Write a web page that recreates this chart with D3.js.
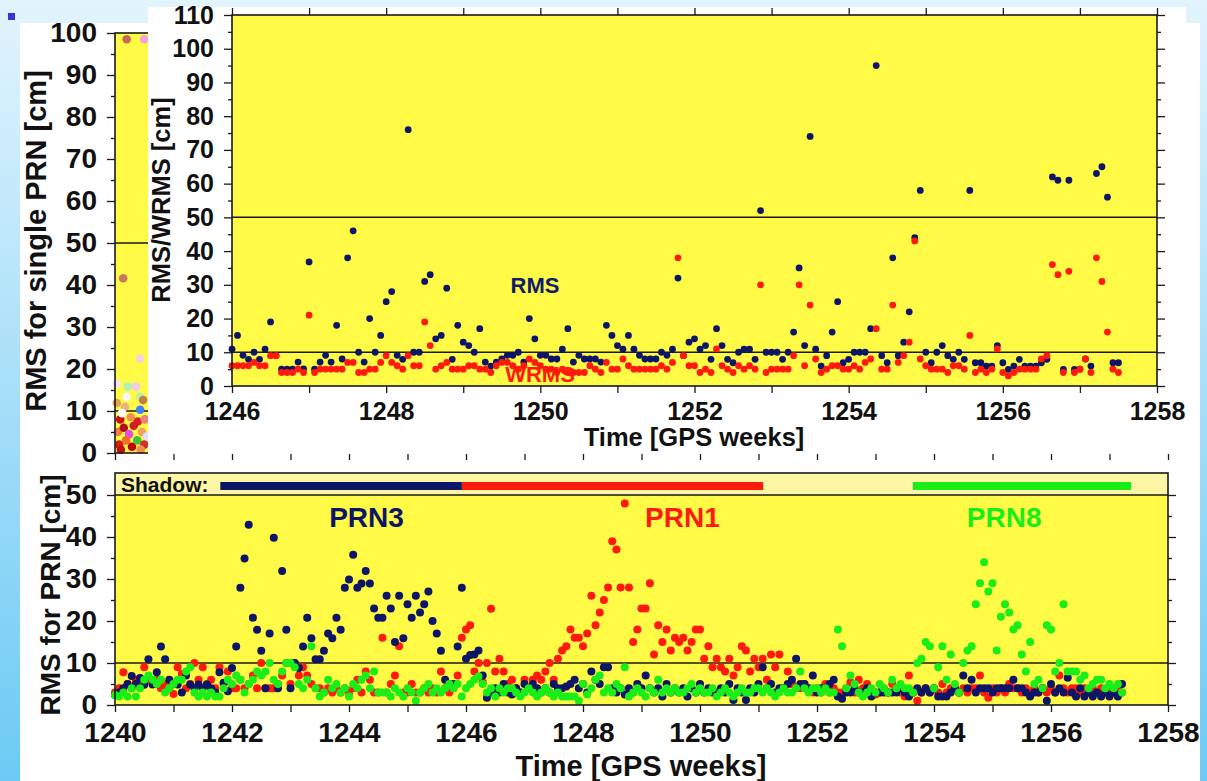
<!DOCTYPE html>
<html lang="en">

<head>
    <meta charset="UTF-8">
    <title>RMS / WRMS per PRN</title>
    <script src="https://cdn.jsdelivr.net/npm/d3@7"></script>
    <style>
        body {
            margin: 0;
            overflow: hidden;
        }

        text {
            font-family: "Liberation Sans", Arial, sans-serif;
            font-weight: bold;
        }
    </style>
</head>

<body>
    <svg id="fig" width="1207" height="781"></svg>

    <script>
        // ---- top panel: daily combination RMS / WRMS, two values per day from week 1246
        const topStart = 1246
        const topStep = 1 / 14
        const rms = [
            10.9, 15, 9.1, 7.9, 10, 7.9, 10.9, 19, 9, 5,
            5, 5, 7.1, 5.1, 36.8, 5, 7.1, 9.1, 7.1, 18,
            8, 38, 46, 10, 7.1, 20, 10, 15, 25, 28,
            9.1, 7.9, 76, 10, 10, 31, 33, 14, 15, 29,
            7.9, 18, 13, 12, 10, 17, 7.1, 5.9, 7.1, 8,
            9.1, 9.1, 10, 7.1, 20, 14, 9.1, 9.1, 8, 8,
            10.9, 17, 7.1, 9.1, 8, 8, 8, 7.1, 18, 15,
            12, 10.9, 15, 10.9, 9.1, 8, 8, 8, 10, 9.1,
            10.9, 32, 9, 13, 14, 10.9, 12, 7.9, 17, 12,
            7.9, 6.9, 10, 10.9, 10.9, 7.9, 52, 10, 10, 10,
            7.9, 10, 16, 35, 12, 74, 10.9, 5.9, 9, 16,
            25, 6.9, 7.9, 10, 10, 10, 17, 95, 9, 6.9,
            38, 9, 13, 22, 44, 58, 10, 6.9, 10, 12,
            9, 7.9, 10, 7.9, 58, 6.9, 6.9, 5.9, 5.9, 12,
            6.9, 4.9, 5.9, 7.9, 5.9, 5.9, 5.9, 6.9, 7.9, 62,
            61, 4.9, 61, 4.9, 5, 8, 5.9, 63, 65, 56,
            6.9, 6.9
        ]
        const wrms = [
            6, 6, 6, 6, 7, 6, 6, 9, 9, 4,
            4, 4, 5, 4, 21, 4, 5, 5, 5, 5,
            5, 7, 7, 4, 4, 5, 5, 7, 9, 7,
            6, 5, 9, 6, 6, 19, 12, 5, 6, 7,
            5, 5, 5, 6, 6, 5, 5, 4, 6, 7,
            7, 6, 5, 6, 8, 7, 6, 5, 5, 4,
            5, 4, 4, 4, 4, 6, 5, 4, 7, 5,
            5, 8, 6, 5, 5, 5, 5, 5, 6, 5,
            7, 38, 9, 6, 6, 4, 5, 4, 11, 6,
            5, 4, 6, 5, 6, 5, 30, 4, 5, 5,
            5, 5, 9, 30, 6, 24, 8, 4, 5, 6,
            6, 5, 5, 6, 5, 7, 8, 17, 5, 5,
            24, 7, 9, 13, 43, 8, 6, 5, 5, 5,
            4, 6, 6, 5, 15, 4, 5, 4, 5, 11,
            4, 3, 4, 5, 5, 5, 5, 8, 9, 36,
            33, 4, 34, 4, 5, 8, 4, 38, 31, 16,
            5, 4
        ]

        // ---- bottom panel: RMS per satellite, two values per day from week 1240
        const prnStart = 1240
        const prnStep = 1 / 14
        const prn3 = [
            2.4, 3, 4, 5, 6.9, 5, 6.4, 4.8, 10.9, 4.9,
            7.8, 13.9, 10.9, 6, 5, 4.9, 3, 7, 4.9, 4,
            4.9, 4, 4.9, 4, 3, 7.8, 5.3, 3.3, 8.8, 13.9,
            27.9, 34.9, 42.9, 20.8, 17.9, 12.9, 4, 17, 39.8, 4,
            31.9, 17.9, 4, 10, 8.8, 13.9, 20.8, 15.9, 10.9, 10.9,
            12.9, 17, 15.9, 20.8, 17.9, 27.9, 29.9, 35.8, 27.9, 28.9,
            31.9, 28.9, 23, 20.8, 20.8, 26, 23, 15, 26, 15.9,
            24, 20.8, 26, 22, 24, 27, 20, 17, 12.9, 6,
            5, 5, 13.9, 27.9, 11, 11.9, 12, 13, 7, 1.7,
            3, 4, 3, 5, 3, 2.5, 4, 3, 5, 4,
            5, 4, 3, 4, 3, 5, 4, 4, 4.4, 5,
            6, 4, 5, 3, 8, 6, 5, 9, 9, 4,
            3, 4, 2.5, 4, 3, 5, 4, 7, 4, 3,
            4, 2, 5, 3, 4, 3, 4, 2, 4, 3,
            5, 3, 4, 3, 3, 4, 3, 5, 1.2, 4,
            3, 1.2, 4, 3, 5, 9, 4, 5, 3, 4,
            4, 5, 6, 11, 5, 5, 4, 7, 3, 4,
            4, 5, 6, 2, 1.5, 3, 3, 4, 3, 3,
            4, 2, 3, 3, 3, 3, 3, 3, 4, 3,
            2, 3, 4, 3, 4, 3, 4, 2, 2, 2,
            3, 4, 3, 7, 4, 6, 3, 4, 4, 4,
            3, 4, 4, 4, 4, 6, 4, 4, 3, 2,
            3, 3, 4, 1, 5, 3, 4, 3, 6.5, 3,
            2, 4, 2, 3, 2, 3, 2, 3, 2, 3,
            2, 5
        ]
        const prn1 = [
            3, 4, 7.8, 5, 4, 6, 5, 9, 6, 5,
            6, 4, 5, 4, 2.6, 9, 7.4, 4, 5, 10,
            6, 9, 5, 6, 4, 9, 5, 8, 4, 4,
            6, 4, 5, 7, 4, 10, 4, 4, 4, 5,
            7, 10, 5, 10, 7, 9, 7, 5, 4, 4,
            3, 4, 3, 4, 3, 4, 3, 4, 6, 3,
            8, 6, 3, 3, 16, 3, 5, 7, 14, 3,
            3, 5, 3, 3, 4, 3, 4, 3, 8, 4,
            3, 4, 7, 16, 18, 19, 8, 10, 5.4, 10,
            22.9, 8, 11, 8, 5, 6, 4, 3, 6, 4,
            6, 7, 6, 8, 10, 6, 11, 13, 14, 18,
            16, 16, 14, 17, 26, 19, 22, 25, 28, 39,
            37, 28, 48, 28, 15, 18, 23, 23, 29, 12,
            19, 15, 18, 13, 16, 15, 16, 13, 15, 18,
            18, 11, 14, 9, 11, 9, 8, 11, 7, 9,
            14, 13, 8, 11, 9, 11, 6, 12, 9, 12,
            4, 8, 5, 4, 4, 5, 4, 3, 4, 3,
            5, 3, 4, 3, 3, 4, 5.4, 3, 6, 4,
            5, 3, 2.5, 3, 4, 3, 5, 4, 3, 2,
            7, 3, 1, 3, 4, 3, 4, 3, 5, 3,
            4, 4, 3, 4, 3, 4, 4, 7, 3, 1.7,
            4, 3, 4, 3, 5, 4, 4, 3, 4, 3,
            4, 3, 4, 3, 4, 3, 7, 4, 3, 4,
            4, 3, 4, 3, 4, 3, 4, 3, 4, 3,
            4, 3
        ]
        const prn8 = [
            2.4, 2, 3, 2, 4, 2, 4, 6, 7, 6,
            5, 6, 3, 4, 5, 6, 6, 8, 9, 3,
            2, 3, 2, 3, 2, 2, 4, 6, 5, 7,
            6, 3, 5, 6, 8, 7, 8, 10, 6, 5,
            8, 10, 10, 9, 5, 4, 6, 14, 4, 2,
            3, 6, 4, 5, 3, 4, 2, 5, 4, 6,
            7, 4, 8, 3, 3, 3, 2, 4, 3, 2,
            4, 3, 1, 3, 4, 5, 3, 4, 3, 4,
            5, 4, 5, 2, 4, 5, 6, 6.8, 5, 3,
            4, 2, 4, 3, 4, 4, 3, 2, 3, 4,
            3, 2, 3, 4, 3, 2, 3, 2, 2, 2,
            2, 1, 5, 2.5, 4, 6, 7, 3, 4, 3,
            5, 4, 9, 2, 3, 4, 3, 2, 4, 3,
            6, 3, 4, 3, 4, 3, 3, 4, 5, 3,
            4, 3, 3, 4, 2, 3, 4, 3, 2, 3,
            4, 3, 3, 4, 4, 3, 4, 3, 2, 3,
            4, 3, 3, 4, 8, 4, 3, 4, 4, 3,
            4, 3, 3, 18, 14, 4, 7, 5, 3, 2,
            3, 4, 3, 5, 4, 3, 6, 4, 5, 4,
            4, 3, 10, 11, 15, 14, 4, 9, 14, 6,
            12, 5, 3, 10, 13, 14, 24, 29, 34, 27,
            29, 13, 21, 24, 22, 18, 19, 12, 8, 15,
            5, 6, 4, 19, 18, 8, 10, 24, 8, 8,
            8, 6, 7, 4, 5, 6, 6, 4, 5, 4,
            5, 3
        ]
        const prnNames = ["PRN3", "PRN1", "PRN8"]
        const prnColors = ["#0d1566", "#ff1a0d", "#19ee19"]
        const prnLabelWeek = [1244.3, 1249.7, 1255.2]
        // eclipse ("shadow") seasons of each satellite
        const shadowFrom = [1241.8, 1245.93, 1253.64]
        const shadowTo = [1245.93, 1251.08, 1257.37]

        // ---- panel behind (single PRN RMS), only its left edge is visible
        const singleWeek = [1240.2, 1240.5, 1240.14, 1240.43, 1240.03, 1240.22, 1240.36, 1240.2, 1240.43,
            1240.03, 1240.48, 1240.17, 1240.09, 1240.27, 1240.39, 1240.51, 1240.05, 1240.15, 1240.24,
            1240.32, 1240.46, 1240.07, 1240.19, 1240.29, 1240.38, 1240.5, 1240.12, 1240.43, 1240.55,
            1240.1, 1240.44]
        const singleVal = [98.5, 98.5, 41.6, 22.5, 16.5, 15.8, 15.8, 13.4, 13.4,
            11.9, 12.6, 11, 8, 8.5, 7.5, 8, 5, 6, 4.5,
            6.5, 5, 2, 3, 1.5, 3, 2, 9.5, 10.3, 4,
            0.8, 0.8]
        const singleColor = ["#c86a5a", "#f4a0e4", "#c8785a", "#f8d0e0", "#f4e4f4", "#b4f0b4", "#f4cce4", "#fff4f4", "#c0f0a0",
            "#e0a050", "#c08048", "#f0b080", "#cc1010", "#f09050", "#d02020", "#f08080", "#f08040", "#b01010", "#e050e0",
            "#cc2020", "#f0a060", "#d02010", "#f07030", "#c00000", "#40c040", "#d03030", "#ffffff", "#4080ff", "#e0e0ff",
            "#c01010", "#f09050"]

        const yellow = "#fefa46"
        const ink = "#1a1a1a"

        let svg = d3.select("#fig")

        // background
        let defs = svg.append("defs")
        let grad = defs.append("linearGradient").attr("id", "bg")
            .attr("x1", 0).attr("y1", 0).attr("x2", 0).attr("y2", 1)
        grad.append("stop").attr("offset", "0%").attr("stop-color", "#e2f4fd")
        grad.append("stop").attr("offset", "100%").attr("stop-color", "#6ccaf4")
        svg.append("rect").attr("width", 1207).attr("height", 781).attr("fill", "url(#bg)")
        svg.append("rect").attr("x", 8).attr("y", 13).attr("width", 7).attr("height", 7).attr("fill", "#3434dc")

        // white sheet holding the lower figure
        svg.append("rect").attr("x", 20).attr("y", 23).attr("width", 1180).attr("height", 760).attr("fill", "white")

        function yTicks(g, y, x, side, maxV, fs, labels) {
            let mk = side === "left" ? d3.axisLeft : d3.axisRight
            g.append("g").attr("transform", `translate(${x},0)`)
                .call(mk(y).tickValues(d3.range(5, maxV, 10)).tickSize(4).tickFormat("").tickSizeOuter(0))
            g.append("g").attr("transform", `translate(${x},0)`)
                .call(mk(y).tickValues(d3.range(0, maxV + 1, 10)).tickSize(8).tickPadding(10)
                    .tickSizeOuter(0).tickFormat(labels ? d3.format("d") : ""))
        }

        function xTicks(g, x, y, side, fs, labels, pad) {
            let mk = side === "bottom" ? d3.axisBottom : d3.axisTop
            g.append("g").attr("transform", `translate(0,${y})`)
                .call(mk(x).tickValues(d3.range(x.domain()[0], x.domain()[1] + 1, 1)).tickSize(7)
                    .tickPadding(pad).tickSizeOuter(0)
                    .tickFormat(d => labels && d % 2 === 0 ? d : ""))
        }

        function styleAxes(g, fs) {
            g.selectAll(".domain").remove()
            g.selectAll(".tick line").attr("stroke", ink).attr("stroke-width", 1.3)
            g.selectAll(".tick text").attr("fill", "#111").attr("font-size", fs)
                .attr("font-family", "'Liberation Sans', Arial, sans-serif")
        }

        function hline(g, x, y, v) {
            g.append("line").attr("x1", x.range()[0]).attr("x2", x.range()[1])
                .attr("y1", y(v)).attr("y2", y(v)).attr("stroke", ink).attr("stroke-width", 1.5)
        }

        function frame(g, x, y0, y1) {
            g.append("rect").attr("x", x.range()[0]).attr("y", y0)
                .attr("width", x.range()[1] - x.range()[0]).attr("height", y1 - y0)
                .attr("fill", "none").attr("stroke", ink).attr("stroke-width", 1.6)
        }

        // ---------- panel behind: RMS for single PRN ----------
        let xB = d3.scaleLinear().domain([1240, 1258]).range([115, 1168])
        let yB = d3.scaleLinear().domain([0, 100]).range([453, 33])
        let backG = svg.append("g")
        backG.append("rect").attr("x", 115).attr("y", 33).attr("width", 1053).attr("height", 420).attr("fill", yellow)
        hline(backG, xB, yB, 10)
        hline(backG, xB, yB, 50)
        backG.selectAll("circle").data(singleVal).join("circle")
            .attr("cx", (d, i) => xB(singleWeek[i])).attr("cy", d => yB(d)).attr("r", 4.3)
            .attr("fill", (d, i) => singleColor[i])
        frame(backG, xB, 33, 453)
        yTicks(backG, yB, 115, "left", 100, 28, true)
        xTicks(backG, xB, 453, "bottom", 28, false, 4)
        styleAxes(backG, 28)
        backG.append("text").attr("transform", "translate(46,241) rotate(-90)")
            .attr("text-anchor", "middle").attr("font-size", 29).attr("fill", "#111")
            .text("RMS for single PRN [cm]")

        // ---------- top panel: RMS / WRMS ----------
        svg.append("rect").attr("x", 148).attr("y", 7).attr("width", 1038).attr("height", 447).attr("fill", "white")
        let xT = d3.scaleLinear().domain([1246, 1258]).range([232, 1157])
        let yT = d3.scaleLinear().domain([0, 110]).range([386, 15])
        let topG = svg.append("g")
        topG.append("rect").attr("x", 232).attr("y", 15).attr("width", 925).attr("height", 371).attr("fill", yellow)
        hline(topG, xT, yT, 10)
        hline(topG, xT, yT, 50)
        topG.append("text").attr("x", 535).attr("y", 293).attr("text-anchor", "middle")
            .attr("font-size", 22).attr("fill", "#101c6e").text("RMS")
        topG.append("text").attr("x", 540).attr("y", 382).attr("text-anchor", "middle")
            .attr("font-size", 22).attr("fill", "#ff1a0d").text("WRMS")
        topG.append("g").selectAll("circle").data(rms).join("circle")
            .attr("cx", (d, i) => xT(topStart + i * topStep)).attr("cy", d => yT(d))
            .attr("r", 3.4).attr("fill", "#0d1566")
        topG.append("g").selectAll("circle").data(wrms).join("circle")
            .attr("cx", (d, i) => xT(topStart + i * topStep)).attr("cy", d => yT(d))
            .attr("r", 3.4).attr("fill", "#ff1a0d")
        frame(topG, xT, 15, 386)
        yTicks(topG, yT, 232, "left", 110, 25, true)
        yTicks(topG, yT, 1157, "right", 110, 25, false)
        xTicks(topG, xT, 386, "bottom", 25, true, 9)
        xTicks(topG, xT, 15, "top", 25, false, 4)
        styleAxes(topG, 25)
        topG.append("text").attr("x", 694).attr("y", 446).attr("text-anchor", "middle")
            .attr("font-size", 25.5).attr("fill", "#111").text("Time [GPS weeks]")
        topG.append("text").attr("transform", "translate(170,200) rotate(-90)")
            .attr("text-anchor", "middle").attr("font-size", 25.5).attr("fill", "#111")
            .text("RMS/WRMS [cm]")

        // ---------- bottom panel: RMS for PRN ----------
        let xP = d3.scaleLinear().domain([1240, 1258]).range([115, 1168])
        let yP = d3.scaleLinear().domain([0, 50]).range([705, 495])
        let botG = svg.append("g")
        botG.append("rect").attr("x", 115).attr("y", 495).attr("width", 1053).attr("height", 210).attr("fill", yellow)
        botG.append("rect").attr("x", 115).attr("y", 473).attr("width", 1053).attr("height", 22).attr("fill", "#fdf6a4")
        botG.append("text").attr("x", 121).attr("y", 492).attr("font-size", 21).attr("fill", "#111").text("Shadow:")
        botG.selectAll(".shadow").data(shadowFrom).join("rect").attr("class", "shadow")
            .attr("x", d => xP(d)).attr("y", 482)
            .attr("width", (d, i) => xP(shadowTo[i]) - xP(d)).attr("height", 8)
            .attr("fill", (d, i) => prnColors[i])
        hline(botG, xP, yP, 10)
        hline(botG, xP, yP, 50)
        botG.selectAll(".prnlab").data(prnNames).join("text").attr("class", "prnlab")
            .attr("x", (d, i) => xP(prnLabelWeek[i])).attr("y", 527).attr("text-anchor", "middle")
            .attr("font-size", 28).attr("fill", (d, i) => prnColors[i]).text(d => d)
        let series = [prn1, prn3, prn8]
        let seriesColor = [prnColors[1], prnColors[0], prnColors[2]]
        series.forEach((s, k) => {
            botG.append("g").selectAll("circle").data(s).join("circle")
                .attr("cx", (d, i) => xP(prnStart + i * prnStep)).attr("cy", d => yP(d))
                .attr("r", 4).attr("fill", seriesColor[k])
        })
        frame(botG, xP, 473, 705)
        yTicks(botG, yP, 115, "left", 50, 28, true)
        yTicks(botG, yP, 1168, "right", 50, 28, false)
        xTicks(botG, xP, 705, "bottom", 28, true, 10)
        styleAxes(botG, 28)
        botG.append("text").attr("x", 641).attr("y", 776).attr("text-anchor", "middle")
            .attr("font-size", 29).attr("fill", "#111").text("Time [GPS weeks]")
        botG.append("text").attr("transform", "translate(60,595) rotate(-90)")
            .attr("text-anchor", "middle").attr("font-size", 28).attr("fill", "#111")
            .text("RMS for PRN [cm]")
    </script>

</body>

</html>
